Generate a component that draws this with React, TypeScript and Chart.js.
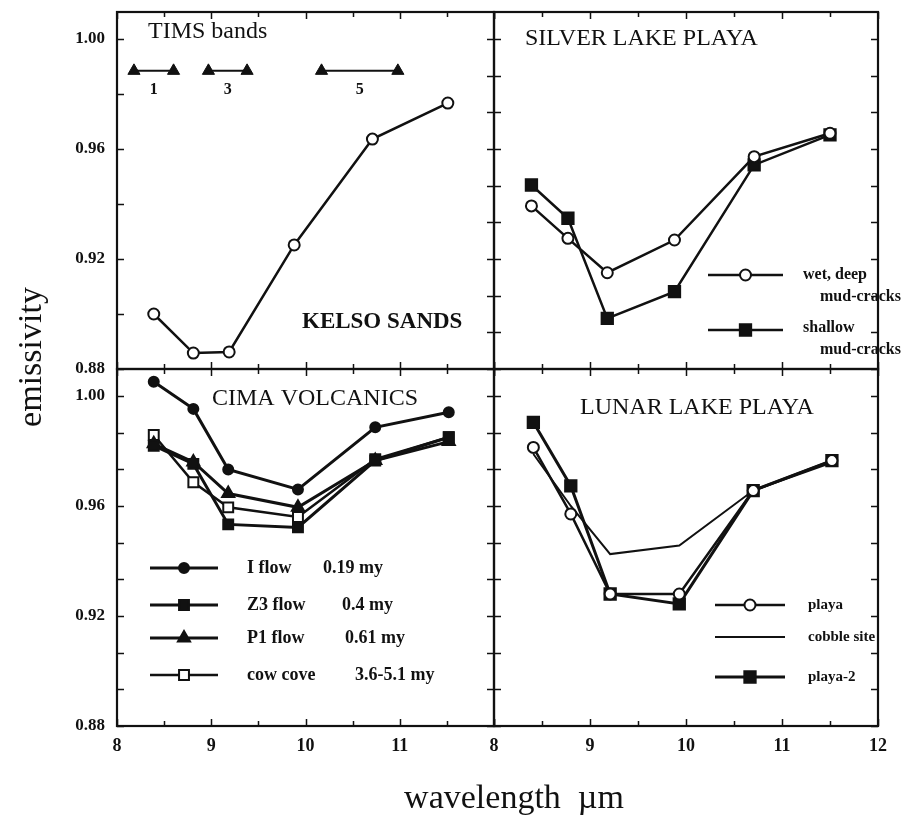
import React, { useEffect, useRef } from 'react';
import { Chart, registerables } from 'chart.js';
import { drawPoint } from 'chart.js/helpers';

Chart.register(...registerables);

const W = 906;
const H = 817;
const FONT = '"Liberation Serif", "Times New Roman", serif';
const INK = '#111';

// ---------------- data ----------------
const yTickLabels = [0.88, 0.92, 0.96, 1.0];
const xTickLabelsLeft = [8, 9, 10, 11];
const xTickLabelsRight = [8, 9, 10, 11, 12];

// KELSO SANDS
const kelsoWavelength = [8.39, 8.81, 9.19, 9.88, 10.71, 11.51];
const kelsoEmissivity = [0.9, 0.8858, 0.8862, 0.9251, 0.9636, 0.9767];

// TIMS bands
const timsBandNames = ['1', '3', '5'];
const timsBandStart = [8.18, 8.97, 10.17];
const timsBandEnd = [8.6, 9.38, 10.98];
const timsBandLevel = 0.9884;

// SILVER LAKE PLAYA
const silverWavelength = [8.39, 8.77, 9.18, 9.88, 10.71, 11.5];
const silverWetDeep = [0.9393, 0.9275, 0.915, 0.9269, 0.9572, 0.9657];
const silverShallow = [0.9469, 0.9348, 0.8984, 0.9081, 0.9542, 0.9651];

// CIMA VOLCANICS
const cimaWavelength = [8.39, 8.81, 9.18, 9.92, 10.74, 11.52];
const cimaIFlow = [1.0052, 0.9953, 0.9733, 0.966, 0.9886, 0.9941];
const cimaZ3Flow = [0.9819, 0.9753, 0.9533, 0.9522, 0.9765, 0.985];
const cimaP1Flow = [0.9826, 0.976, 0.9645, 0.9595, 0.9765, 0.9834];
const cimaCowCove = [0.9858, 0.9686, 0.9595, 0.956, 0.977, 0.985];
const cimaNames = ['I flow', 'Z3 flow', 'P1 flow', 'cow cove'];
const cimaAges = ['0.19 my', '0.4 my', '0.61 my', '3.6-5.1 my'];

// LUNAR LAKE PLAYA
const lunarWavelength = [8.41, 8.8, 9.21, 9.93, 10.7, 11.52];
const lunarPlaya = [0.9813, 0.9571, 0.928, 0.928, 0.9656, 0.9765];
const lunarCobble = [0.9789, 0.96, 0.9425, 0.9456, 0.9656, 0.9758];
const lunarPlaya2 = [0.9904, 0.9673, 0.928, 0.9244, 0.9656, 0.9765];
const lunarNames = ['playa', 'cobble site', 'playa-2'];

// ---------------- helpers ----------------
const pts = (xs: number[], ys: number[]) => xs.map((x, i) => ({ x, y: ys[i] }));

type Area = { left: number; top: number; right: number; bottom: number };
type TextItem = { text: string; x: number; y: number; font: string; align?: CanvasTextAlign; rotate?: number };
type LegendItem = { ds: number; x1: number; x2: number; y: number; texts: TextItem[] };

type Panel = {
  area: Area;
  yMax: number;
  yLabels: number[];
  xLabels: number[];
  leftStep: number;
  datasets: any[];
  texts: TextItem[];
  legend: LegendItem[];
  bandLabels?: boolean;
};

const X_AXIS_H = 40;
const Y_MIN = 0.88;

function line(label: string, data: any[], style: string, radius: number, filled: boolean, width = 2.5) {
  return {
    label,
    data,
    borderColor: INK,
    borderWidth: width,
    tension: 0,
    pointStyle: style,
    pointRadius: radius,
    pointBorderWidth: 2,
    pointBorderColor: INK,
    pointBackgroundColor: filled ? INK : '#fff',
  };
}

function decorPlugin(p: Panel) {
  const drawText = (ctx: CanvasRenderingContext2D, t: TextItem) => {
    ctx.save();
    ctx.font = t.font;
    ctx.fillStyle = INK;
    ctx.textAlign = t.align || 'left';
    ctx.textBaseline = 'middle';
    ctx.translate(t.x, t.y);
    if (t.rotate) ctx.rotate(t.rotate);
    ctx.fillText(t.text, 0, 0);
    ctx.restore();
  };
  return {
    id: 'decor',
    afterDatasetsDraw(chart: any) {
      const ctx: CanvasRenderingContext2D = chart.ctx;
      p.texts.forEach((t) => drawText(ctx, t));
      if (p.bandLabels) {
        const xs = chart.scales.x;
        const ys = chart.scales.y;
        timsBandNames.forEach((name, i) => {
          const cx = xs.getPixelForValue((timsBandStart[i] + timsBandEnd[i]) / 2);
          const cy = ys.getPixelForValue(timsBandLevel) + 19;
          drawText(ctx, { text: name, x: cx, y: cy, font: `bold 16px ${FONT}`, align: 'center' });
        });
      }
      p.legend.forEach((item) => {
        const ds = chart.data.datasets[item.ds];
        ctx.save();
        ctx.strokeStyle = ds.borderColor;
        ctx.lineWidth = ds.borderWidth;
        ctx.beginPath();
        ctx.moveTo(item.x1, item.y);
        ctx.lineTo(item.x2, item.y);
        ctx.stroke();
        ctx.lineWidth = ds.pointBorderWidth;
        ctx.strokeStyle = ds.pointBorderColor;
        ctx.fillStyle = ds.pointBackgroundColor;
        drawPoint(
          ctx,
          { pointStyle: ds.pointStyle, radius: ds.pointRadius, rotation: 0, borderWidth: ds.pointBorderWidth } as any,
          (item.x1 + item.x2) / 2,
          item.y
        );
        ctx.restore();
        item.texts.forEach((t) => drawText(ctx, t));
      });
    },
    afterDraw(chart: any) {
      const ctx: CanvasRenderingContext2D = chart.ctx;
      const a = chart.chartArea;
      const xs = chart.scales.x;
      const ys = chart.scales.y;
      ctx.save();
      ctx.strokeStyle = INK;
      ctx.lineWidth = 1.5;
      ctx.beginPath();
      for (let v = 8; v <= 12.001; v += 0.5) {
        const px = Math.round(xs.getPixelForValue(v)) + 0.5;
        const len = Math.abs(v - Math.round(v)) < 1e-6 ? 7 : 5;
        ctx.moveTo(px, a.bottom);
        ctx.lineTo(px, a.bottom - len);
        ctx.moveTo(px, a.top);
        ctx.lineTo(px, a.top + len);
      }
      for (let v = Y_MIN; v <= p.yMax; v += p.leftStep) {
        const py = Math.round(ys.getPixelForValue(v)) + 0.5;
        ctx.moveTo(a.left, py);
        ctx.lineTo(a.left + 7, py);
      }
      for (let v = Y_MIN; v <= p.yMax; v += 0.04 / 3) {
        const py = Math.round(ys.getPixelForValue(v)) + 0.5;
        ctx.moveTo(a.right, py);
        ctx.lineTo(a.right - 7, py);
      }
      ctx.stroke();
      ctx.lineWidth = 2.2;
      ctx.strokeRect(a.left, a.top, a.right - a.left, a.bottom - a.top);
      ctx.restore();
    },
  };
}

function zeroPad(s: any) {
  s.paddingTop = 0;
  s.paddingBottom = 0;
  s.paddingLeft = 0;
  s.paddingRight = 0;
}

function buildChart(canvas: HTMLCanvasElement, p: Panel) {
  const a = p.area;
  const yShow = p.yLabels.length > 0;
  const xShow = p.xLabels.length > 0;
  return new Chart(canvas, {
    type: 'line',
    data: { datasets: p.datasets },
    options: {
      animation: false,
      responsive: false,
      events: [],
      layout: {
        padding: {
          left: yShow ? 0 : a.left,
          top: a.top,
          right: W - a.right,
          bottom: xShow ? H - a.bottom - X_AXIS_H : H - a.bottom,
        },
      },
      plugins: { legend: { display: false }, tooltip: { enabled: false } },
      scales: {
        x: {
          type: 'linear',
          min: 8,
          max: 12,
          display: xShow,
          grid: { display: false, drawTicks: false },
          border: { display: false },
          afterBuildTicks: (s: any) => {
            s.ticks = p.xLabels.map((v) => ({ value: v }));
          },
          afterFit: (s: any) => {
            s.height = xShow ? X_AXIS_H : 0;
            zeroPad(s);
          },
          ticks: {
            padding: 10,
            autoSkip: false,
            maxRotation: 0,
            color: INK,
            font: { family: FONT, size: 18, weight: 'bold' },
            callback: (v: any) => String(v),
          },
        },
        y: {
          type: 'linear',
          min: Y_MIN,
          max: p.yMax,
          display: yShow,
          grid: { display: false, drawTicks: false },
          border: { display: false },
          afterBuildTicks: (s: any) => {
            s.ticks = p.yLabels.map((v) => ({ value: v }));
          },
          afterFit: (s: any) => {
            s.width = yShow ? a.left : 0;
            zeroPad(s);
          },
          ticks: {
            padding: 12,
            autoSkip: false,
            color: INK,
            font: { family: FONT, size: 17, weight: 'bold' },
            callback: (v: any) => Number(v).toFixed(2),
          },
        },
      },
    } as any,
    plugins: [decorPlugin(p)],
  });
}

const TITLE = `24px ${FONT}`;
const LEG_SM = `bold 15px ${FONT}`;
const LEG_SM2 = `bold 16px ${FONT}`;
const LEG_MD = `bold 18px ${FONT}`;

const panels: Panel[] = [
  {
    area: { left: 117, top: 12, right: 494, bottom: 369 },
    yMax: 1.0098,
    yLabels: yTickLabels,
    xLabels: [],
    leftStep: 0.02,
    bandLabels: true,
    datasets: [
      line('KELSO SANDS', pts(kelsoWavelength, kelsoEmissivity), 'circle', 5.5, false),
      ...timsBandNames.map((n, i) => ({
        ...line('band ' + n, [{ x: timsBandStart[i], y: timsBandLevel }, { x: timsBandEnd[i], y: timsBandLevel }], 'triangle', 7, true, 2),
        pointBorderWidth: 1,
      })),
    ],
    texts: [
      { text: 'TIMS bands', x: 148, y: 32, font: TITLE },
      { text: 'KELSO SANDS', x: 302, y: 322, font: `bold 23px ${FONT}` },
    ],
    legend: [],
  },
  {
    area: { left: 494, top: 12, right: 878, bottom: 369 },
    yMax: 1.0098,
    yLabels: [],
    xLabels: [],
    leftStep: 0.04 / 3,
    datasets: [
      line('wet, deep mud-cracks', pts(silverWavelength, silverWetDeep), 'circle', 5.5, false),
      line('shallow mud-cracks', pts(silverWavelength, silverShallow), 'rect', 8, true),
    ],
    texts: [{ text: 'SILVER LAKE PLAYA', x: 525, y: 39, font: TITLE }],
    legend: [
      {
        ds: 0, x1: 708, x2: 783, y: 275,
        texts: [
          { text: 'wet, deep', x: 803, y: 275, font: LEG_SM2 },
          { text: 'mud-cracks', x: 820, y: 297, font: LEG_SM2 },
        ],
      },
      {
        ds: 1, x1: 708, x2: 783, y: 330,
        texts: [
          { text: 'shallow', x: 803, y: 328, font: LEG_SM2 },
          { text: 'mud-cracks', x: 820, y: 350, font: LEG_SM2 },
        ],
      },
    ],
  },
  {
    area: { left: 117, top: 369, right: 494, bottom: 726 },
    yMax: 1.0098,
    yLabels: yTickLabels,
    xLabels: xTickLabelsLeft,
    leftStep: 0.04 / 3,
    datasets: [
      line(cimaNames[0], pts(cimaWavelength, cimaIFlow), 'circle', 5, true, 3),
      line(cimaNames[1], pts(cimaWavelength, cimaZ3Flow), 'rect', 7, true, 3),
      line(cimaNames[2], pts(cimaWavelength, cimaP1Flow), 'triangle', 7, true, 3),
      line(cimaNames[3], pts(cimaWavelength, cimaCowCove), 'rect', 7, false, 2.5),
    ],
    texts: [
      { text: 'CIMA VOLCANICS', x: 212, y: 399, font: TITLE },
      { text: 'emissivity', x: 32, y: 357, font: `34px ${FONT}`, align: 'center', rotate: -Math.PI / 2 },
      { text: 'wavelength  µm', x: 514, y: 799, font: `34px ${FONT}`, align: 'center' },
    ],
    legend: [568, 605, 638, 675].map((y, i) => ({
      ds: i, x1: 150, x2: 218, y,
      texts: [
        { text: cimaNames[i], x: 247, y, font: LEG_MD },
        { text: cimaAges[i], x: [323, 342, 345, 355][i], y, font: LEG_MD },
      ],
    })),
  },
  {
    area: { left: 494, top: 369, right: 878, bottom: 726 },
    yMax: 1.0098,
    yLabels: [],
    xLabels: xTickLabelsRight,
    leftStep: 0.04 / 3,
    datasets: [
      line(lunarNames[0], pts(lunarWavelength, lunarPlaya), 'circle', 5.5, false),
      line(lunarNames[1], pts(lunarWavelength, lunarCobble), 'circle', 0, false, 2),
      line(lunarNames[2], pts(lunarWavelength, lunarPlaya2), 'rect', 8, true, 3),
    ],
    texts: [{ text: 'LUNAR LAKE PLAYA', x: 580, y: 408, font: TITLE }],
    legend: [605, 637, 677].map((y, i) => ({
      ds: i, x1: 715, x2: 785, y,
      texts: [{ text: lunarNames[i], x: 808, y, font: LEG_SM }],
    })),
  },
];

function PanelCanvas({ panel }: { panel: Panel }) {
  const ref = useRef<HTMLCanvasElement>(null);
  useEffect(() => {
    const chart = buildChart(ref.current as HTMLCanvasElement, panel);
    return () => chart.destroy();
  }, [panel]);
  return (
    <canvas
      ref={ref}
      width={W}
      height={H}
      style={{ position: 'absolute', left: 0, top: 0, width: W, height: H }}
    />
  );
}

export default function App() {
  return (
    <div style={{ position: 'fixed', left: 0, top: 0, width: W, height: H, background: '#fff', overflow: 'hidden' }}>
      {panels.map((p, i) => (
        <PanelCanvas key={i} panel={p} />
      ))}
    </div>
  );
}
